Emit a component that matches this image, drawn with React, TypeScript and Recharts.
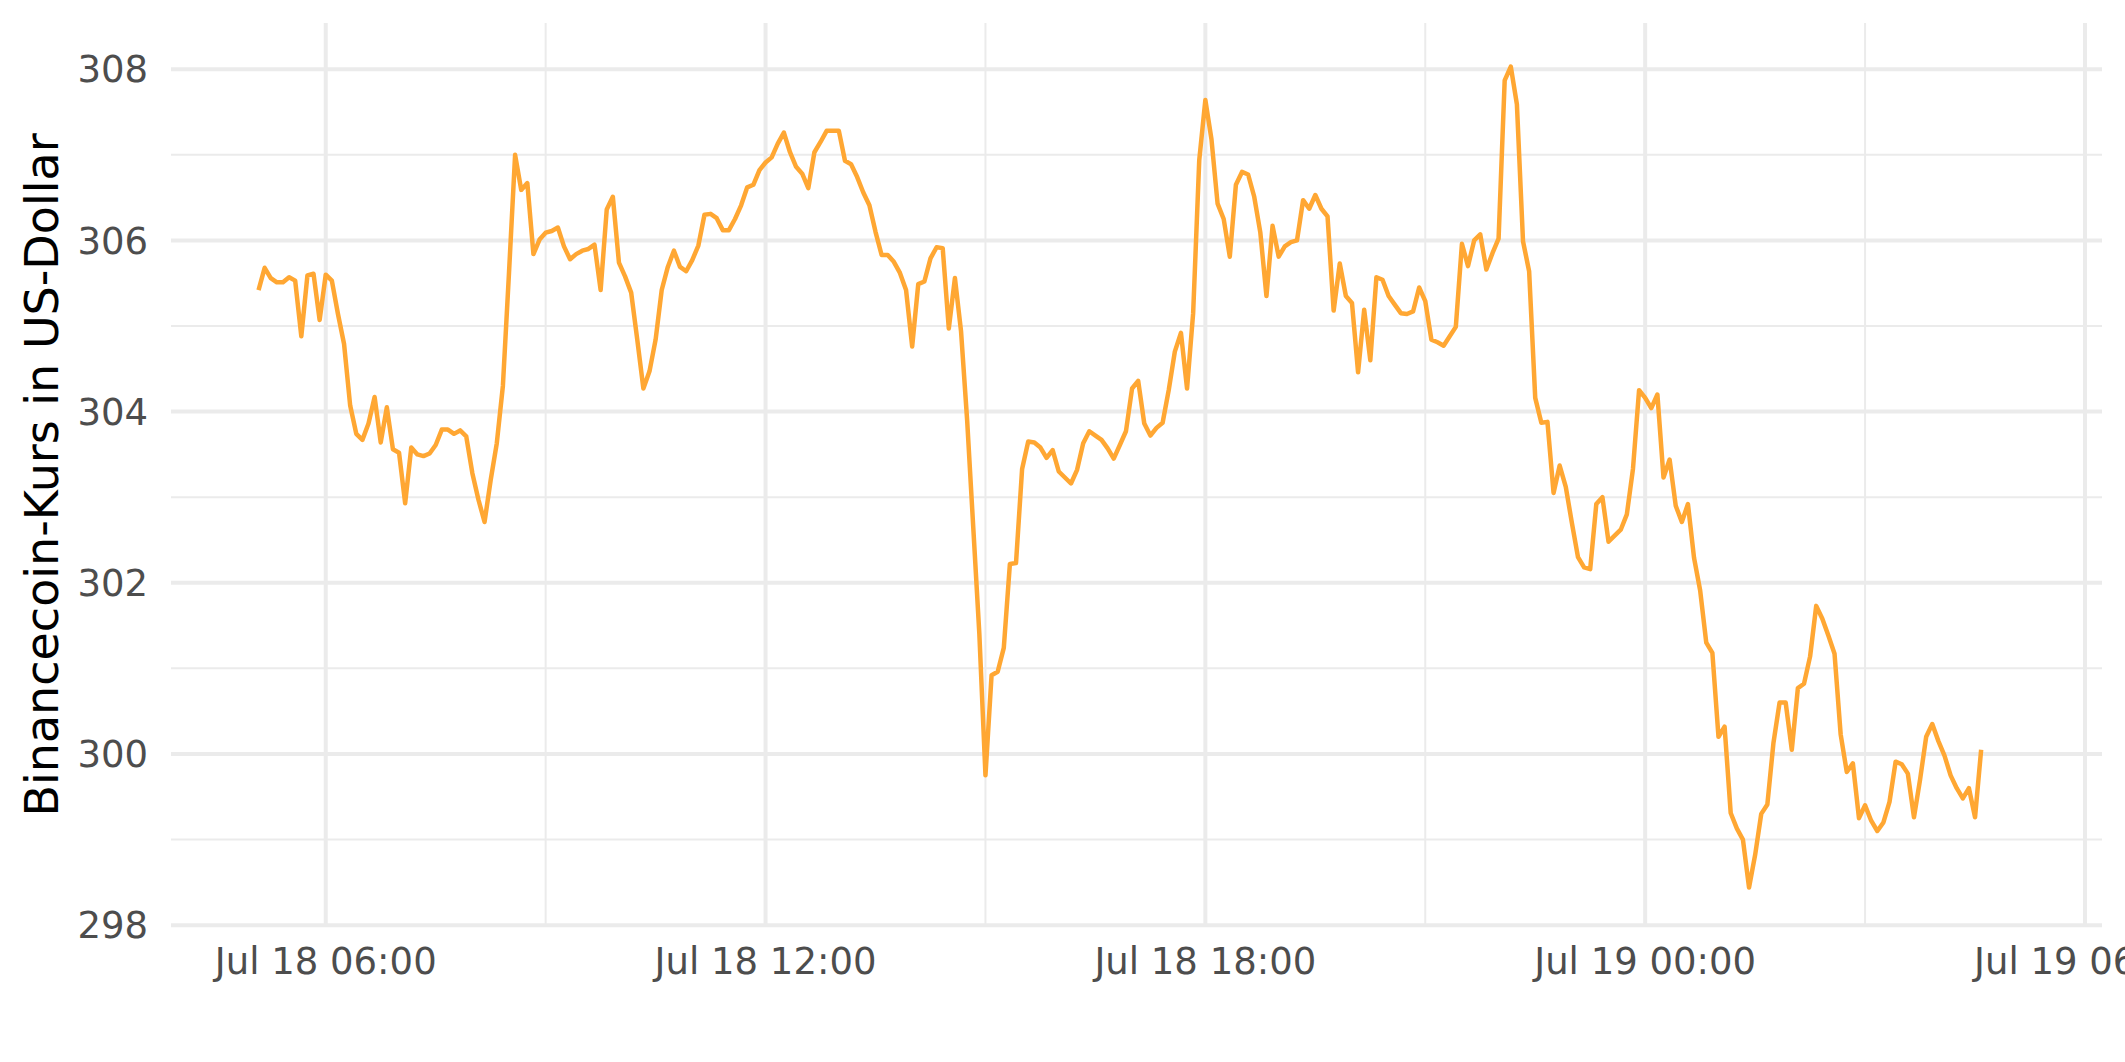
import { LineChart, Line, XAxis, YAxis, CartesianGrid } from "recharts";

// 5-minute closes, first point Jul 18 05:05
const startHour = 5 + 5 / 60;
const stepHours = 5 / 60;

// Jul 18 05:05 - 10:35
const priceMorning = [
    305.42, 305.68, 305.56, 305.51, 305.51, 305.57, 305.53, 304.88, 305.59, 305.61, 305.07, 305.6,
    305.53, 305.14, 304.79, 304.07, 303.74, 303.67, 303.86, 304.17, 303.64, 304.05, 303.56, 303.52,
    302.93, 303.58, 303.5, 303.48, 303.51, 303.61, 303.79, 303.79, 303.74, 303.78,
    303.71, 303.28, 302.97, 302.71, 303.2, 303.63, 304.3, 305.62, 307.0, 306.59, 306.67, 305.84,
    306.01, 306.09, 306.11, 306.15, 305.93, 305.78, 305.84, 305.88, 305.9, 305.95, 305.42, 306.36,
    306.51, 305.74, 305.58, 305.39, 304.84, 304.27, 304.47, 304.84, 305.42,
];

// Jul 18 10:40 - 16:10
const priceMidday = [
    305.69, 305.88, 305.69, 305.64, 305.77, 305.94, 306.3, 306.31, 306.26, 306.12, 306.12, 306.25,
    306.41, 306.62, 306.65, 306.82, 306.91, 306.97, 307.13, 307.26, 307.03, 306.86, 306.78, 306.61,
    307.03, 307.15, 307.28, 307.28, 307.28, 306.93, 306.89, 306.74, 306.56, 306.41,
    306.1, 305.83, 305.83, 305.75, 305.62, 305.42, 304.76, 305.49, 305.52, 305.79, 305.92, 305.91,
    304.97, 305.56, 304.94, 303.9, 302.65, 301.4, 299.75, 300.92, 300.96, 301.24, 302.22, 302.23,
    303.33, 303.65, 303.64, 303.58, 303.46, 303.55, 303.3, 303.23, 303.16,
];

// Jul 18 16:15 - 21:50
const priceEvening = [
    303.32, 303.63, 303.77, 303.72, 303.67, 303.57, 303.45, 303.61, 303.77, 304.27, 304.36, 303.86,
    303.72, 303.81, 303.87, 304.25, 304.7, 304.92, 304.27, 305.15, 306.94, 307.64, 307.18, 306.43,
    306.25, 305.81, 306.65, 306.8, 306.77, 306.51, 306.09, 305.35, 306.17, 305.81,
    305.93, 305.98, 306.0, 306.47, 306.37, 306.53, 306.37, 306.28, 305.18, 305.73, 305.35, 305.27,
    304.46, 305.19, 304.6, 305.57, 305.54, 305.35, 305.25, 305.15, 305.14, 305.17, 305.45, 305.29,
    304.84, 304.81, 304.77, 304.88, 304.99, 305.96, 305.7, 306.0, 306.07, 305.66,
];

// Jul 18 21:55 - Jul 19 04:35
const priceNight = [
    305.85, 306.02, 307.87, 308.03, 307.59, 305.99, 305.64, 304.16, 303.87, 303.88, 303.05, 303.37,
    303.12, 302.7, 302.3, 302.18, 302.16, 302.92, 303.0, 302.48, 302.55, 302.62, 302.8, 303.33,
    304.25, 304.16, 304.04, 304.2, 303.23, 303.44, 302.9, 302.71, 302.92,
    302.29, 301.91, 301.3, 301.18, 300.2, 300.32, 299.31, 299.13, 299.0, 298.44, 298.82, 299.3,
    299.41, 300.13, 300.6, 300.6, 300.05, 300.77, 300.82, 301.14, 301.73, 301.58, 301.38, 301.17,
    300.23, 299.79, 299.89, 299.25, 299.4, 299.22, 299.1, 299.2, 299.44, 299.91,
    299.88, 299.77, 299.26, 299.7, 300.2, 300.35, 300.15, 299.98, 299.75, 299.6, 299.48, 299.6,
    299.26, 300.05,
];

const prices = [...priceMorning, ...priceMidday, ...priceEvening, ...priceNight];

// hours counted from Jul 18 00:00
const xTicks = [6, 12, 18, 24, 30];
const xTickLabels = ["Jul 18 06:00", "Jul 18 12:00", "Jul 18 18:00", "Jul 19 00:00", "Jul 19 06:00"];
const xMinor = [9, 15, 21, 27];
const yTicks = [298, 300, 302, 304, 306, 308];
const yMinor = [299, 301, 303, 305, 307];

const data = prices.map((p, i) => ({ t: startHour + i * stepHours, price: p }));

const font = "'DejaVu Sans', Verdana, sans-serif";
const tickStyle = { fill: "#4D4D4D", fontSize: 37, fontFamily: font };

export default function App() {
    return (
        <div style={{ position: "absolute", left: 0, top: 0, width: 2125, height: 1062, background: "#fff" }}>
            <LineChart
                width={2125}
                height={1062}
                data={data}
                margin={{ top: 23, right: 23, bottom: 76, left: 0 }}
            >
                <CartesianGrid
                    stroke="#EBEBEB"
                    strokeWidth={2}
                    horizontalValues={yMinor}
                    verticalValues={xMinor}
                />
                <CartesianGrid
                    stroke="#EBEBEB"
                    strokeWidth={4}
                    horizontalValues={yTicks}
                    verticalValues={xTicks}
                />
                <XAxis
                    dataKey="t"
                    type="number"
                    domain={[3.889, 30.232]}
                    allowDataOverflow
                    ticks={xTicks}
                    interval={0}
                    tickFormatter={(v) => xTickLabels[xTicks.indexOf(v)]}
                    axisLine={false}
                    tickLine={false}
                    tickSize={0}
                    tickMargin={22}
                    height={60}
                    tick={tickStyle}
                />
                <YAxis
                    type="number"
                    domain={[297.99, 308.54]}
                    allowDataOverflow
                    ticks={yTicks}
                    interval={0}
                    axisLine={false}
                    tickLine={false}
                    tickSize={0}
                    tickMargin={23}
                    width={171}
                    tick={tickStyle}
                />
                <Line
                    type="linear"
                    dataKey="price"
                    stroke="#FFA733"
                    strokeWidth={4.5}
                    strokeLinejoin="round"
                    dot={false}
                    isAnimationActive={false}
                />
            </LineChart>
            <svg
                width={100}
                height={1062}
                style={{ position: "absolute", left: 0, top: 0, pointerEvents: "none" }}
            >
                <text
                    transform="translate(58, 475) rotate(-90)"
                    textAnchor="middle"
                    fontFamily={font}
                    fontSize={46}
                    fill="#000"
                >
                    Binancecoin-Kurs in US-Dollar
                </text>
            </svg>
        </div>
    );
}
